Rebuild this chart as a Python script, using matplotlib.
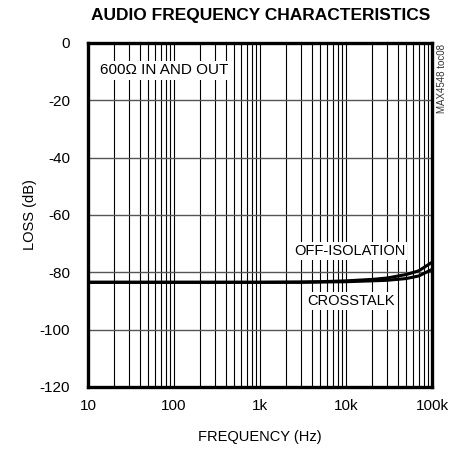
import numpy as np
import matplotlib.pyplot as plt
from matplotlib.ticker import FixedLocator, NullFormatter

plt.rcParams['font.family'] = ['Liberation Sans Narrow', 'Liberation Sans', 'DejaVu Sans']

# data
freq = [10, 100, 1000, 3000, 5000, 10000, 20000, 30000, 50000, 70000, 100000]
off_isolation = [-83.5, -83.5, -83.5, -83.4, -83.3, -83.0, -82.5, -82.0, -80.8, -79.5, -76.5]
crosstalk = [-83.5, -83.5, -83.5, -83.5, -83.4, -83.3, -83.0, -82.8, -82.2, -81.3, -79.0]

x_ticks = [10, 100, 1000, 10000, 100000]
x_labels = ['10', '100', '1k', '10k', '100k']
y_ticks = [0, -20, -40, -60, -80, -100, -120]

fig = plt.figure(figsize=(4.51, 4.51), dpi=100)
ax = fig.add_axes([0.195, 0.142, 0.763, 0.763])

ax.plot(freq, off_isolation, color='black', lw=2.2, zorder=4)
ax.plot(freq, crosstalk, color='black', lw=2.2, zorder=4)

ax.set_xscale('log')
ax.set_xlim(10, 100000)
ax.set_ylim(-120, 0)
ax.set_xticks(x_ticks)
ax.set_xticklabels(x_labels)
minors = [m * 10 ** d for d in range(1, 5) for m in range(2, 10)]
ax.xaxis.set_minor_locator(FixedLocator(minors))
ax.xaxis.set_minor_formatter(NullFormatter())
ax.set_yticks(y_ticks)
ax.set_yticklabels([str(v) for v in y_ticks])

ax.grid(True, axis='x', which='both', color='black', lw=0.8)
ax.grid(True, axis='y', which='major', color='#555555', lw=1.0)
ax.tick_params(which='both', length=0, labelsize=11)
ax.tick_params(axis='y', pad=13)
ax.tick_params(axis='x', pad=9)

for s in ax.spines.values():
    s.set_linewidth(2.4)

box = dict(facecolor='white', edgecolor='none', pad=1.5)
ax.text(0.035, 0.92, '600Ω IN AND OUT', transform=ax.transAxes, fontsize=11,
        va='center', ha='left', bbox=box, zorder=5)
ax.text(0.76, 0.395, 'OFF-ISOLATION', transform=ax.transAxes, fontsize=10.5,
        va='center', ha='center', bbox=box, zorder=5)
ax.text(0.765, 0.25, 'CROSSTALK', transform=ax.transAxes, fontsize=10.5,
        va='center', ha='center', bbox=box, zorder=5)

ax.set_xlabel('FREQUENCY (Hz)', fontsize=10.5, labelpad=12)
ax.set_ylabel('LOSS (dB)', fontsize=10.5, labelpad=2)
fig.text(0.577, 0.965, 'AUDIO FREQUENCY CHARACTERISTICS', ha='center', va='center',
         fontsize=12.5, fontweight='bold')
fig.text(0.98, 0.827, 'MAX4548 toc08', rotation=90, ha='center', va='center', fontsize=7,
         color='#333333')

fig.savefig('out.png', dpi=100)
